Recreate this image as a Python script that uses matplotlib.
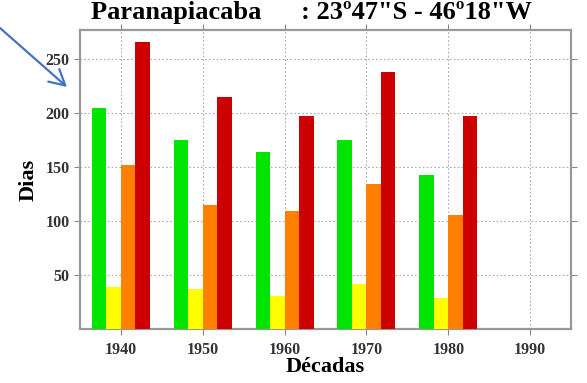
import matplotlib
matplotlib.use("Agg")
import matplotlib.pyplot as plt
import numpy as np

decades = [1940, 1950, 1960, 1970, 1980]
green = [205, 175, 164, 175, 143]
yellow = [39, 37, 31, 42, 29]
orange = [152, 115, 109, 134, 106]
red = [266, 215, 197, 238, 197]
series = [green, yellow, orange, red]
colors = ["#00e400", "#ffff00", "#ff8000", "#cc0000"]
xticks = [1940, 1950, 1960, 1970, 1980, 1990]
yticks = [50, 100, 150, 200, 250]

plt.rcParams['font.family'] = ['Liberation Serif', 'DejaVu Serif']
plt.rcParams['font.weight'] = 'bold'

fig = plt.figure(figsize=(5.87, 3.83), dpi=100)
ax = fig.add_axes([80/587, 1-329/383, (571-80)/587, (329-30)/383])

w = 1.77
x = np.array(decades, dtype=float)
for i, (vals, c) in enumerate(zip(series, colors)):
    ax.bar(x + (i - 1.5) * w, vals, width=w, color=c, edgecolor='none', zorder=3)

ax.set_xlim(1935, 1995)
ax.set_ylim(0, 277)
ax.set_xticks(xticks)
ax.set_yticks(yticks)
ax.grid(True, color='#aaaaaa', linestyle=(0, (1.5, 2)), linewidth=0.8, zorder=0)
ax.tick_params(direction='out', length=4, color='#888888', labelsize=11.5,
               top=True, right=True, labeltop=False, labelright=False)
ax.tick_params(axis='x', pad=5)
for lab in ax.get_xticklabels() + ax.get_yticklabels():
    lab.set_fontweight('bold')
    lab.set_color('#333333')
for s in ax.spines.values():
    s.set_color('#999999')
    s.set_linewidth(1.6)

ax.set_ylabel('Dias', fontsize=16, fontweight='bold', labelpad=5)
ax.set_xlabel('Décadas', fontsize=16, fontweight='bold', labelpad=0)

fig.text(311/587, 1-12/383, 'Paranapiacaba      : 23º47"S - 46º18"W',
         ha='center', va='center', fontsize=19, fontweight='bold')

# blue arrow annotation
fig.add_artist(matplotlib.patches.FancyArrowPatch(
    (0/587, 1-28/383), (67/587, 1-87/383), transform=fig.transFigure,
    arrowstyle='->,head_length=11,head_width=6', color='#4472c4', linewidth=1.6,
    mutation_scale=1, shrinkA=0, shrinkB=0))

fig.savefig('out.png', dpi=100)
